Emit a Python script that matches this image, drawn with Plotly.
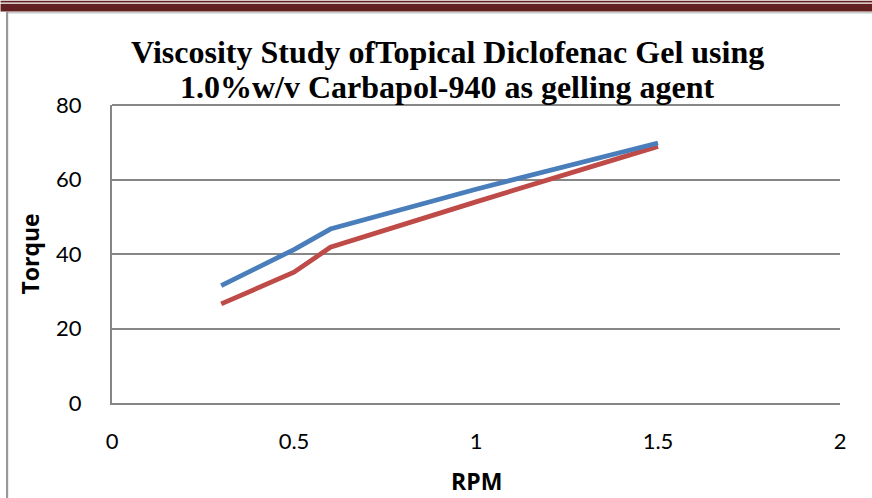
import plotly.graph_objects as go

rpm = [0.3, 0.5, 0.6, 1.0, 1.5]
torque_blue = [31.5, 41.2, 46.7, 57.4, 69.8]
torque_red = [26.6, 35.1, 41.8, 54.0, 68.9]

title_line1 = "Viscosity Study ofTopical Diclofenac Gel using"
title_line2 = "1.0%w/v Carbapol-940 as gelling agent"
x_title = "RPM"
y_title = "Torque"
x_ticks = [0, 0.5, 1, 1.5, 2]
y_ticks = [0, 20, 40, 60, 80]

W, H = 872, 498
L, R, T, B = 111.5, 32, 105, 95
PW, PH = W - L - R, H - T - B


def px(x):
    return (x - L) / PW


def py(y):
    return 1 - (y - T) / PH


fig = go.Figure()
fig.add_trace(go.Scatter(x=rpm, y=torque_red, mode="lines",
                         line=dict(color="#BE4B48", width=4.8), showlegend=False))
fig.add_trace(go.Scatter(x=rpm, y=torque_blue, mode="lines",
                         line=dict(color="#4A7EBB", width=4.8), showlegend=False))

grid = "#868686"
fig.update_layout(
    template="none",
    width=W, height=H,
    margin=dict(l=L, r=R, t=T, b=B, pad=0),
    paper_bgcolor="white", plot_bgcolor="white",
    font=dict(family="Lato", color="black", size=22),
    xaxis=dict(range=[0, 2], tickvals=x_ticks, ticktext=[str(t) for t in x_ticks],
               showgrid=False, zeroline=False, showline=True, linecolor=grid,
               linewidth=2, ticks="", ticklabelstandoff=18, automargin=False,
               tickfont=dict(family="Lato", size=22, color="black")),
    yaxis=dict(range=[0, 80], tickvals=y_ticks, showgrid=True, gridcolor=grid,
               gridwidth=2, zeroline=False, showline=True, linecolor=grid,
               linewidth=2, ticks="", ticklabelstandoff=24, automargin=False,
               tickfont=dict(family="Lato", size=22, color="black")),
    shapes=[
        dict(type="line", xref="paper", yref="paper", x0=0, x1=1, y0=1, y1=1,
             line=dict(color=grid, width=2), layer="below"),
        # top decorative border
        dict(type="rect", xref="paper", yref="paper",
             x0=px(0), x1=px(W), y0=py(2.5), y1=py(0.8),
             fillcolor="#622020", line=dict(width=0)),
        dict(type="rect", xref="paper", yref="paper",
             x0=px(0), x1=px(W), y0=py(11.5), y1=py(3.8),
             fillcolor="#622020", line=dict(width=0)),
        dict(type="line", xref="paper", yref="paper",
             x0=px(6), x1=px(W), y0=py(12.8), y1=py(12.8),
             line=dict(color="#C8C8C8", width=1.5)),
        dict(type="line", xref="paper", yref="paper",
             x0=px(6.5), x1=px(6.5), y0=py(H), y1=py(12),
             line=dict(color="#999999", width=2.2)),
    ],
    annotations=[
        dict(text="<b>" + title_line1 + "</b>", xref="paper", yref="paper",
             x=px(447.5), y=py(52), xanchor="center", yanchor="middle",
             showarrow=False, font=dict(family="Liberation Serif", size=32, color="black")),
        dict(text="<b>" + title_line2 + "</b>", xref="paper", yref="paper",
             x=px(447.5), y=py(87), xanchor="center", yanchor="middle",
             showarrow=False,
             font=dict(family="Liberation Serif", size=32, color="black")),
        dict(text="<b>" + x_title + "</b>", xref="paper", yref="paper",
             x=px(476), y=py(481), xanchor="center", yanchor="middle",
             showarrow=False, font=dict(family="Open Sans", size=23, color="black")),
        dict(text="<b>" + y_title + "</b>", xref="paper", yref="paper",
             x=px(29), y=py(254), xanchor="center", yanchor="middle", textangle=-90,
             showarrow=False, font=dict(family="Open Sans", size=23, color="black")),
    ],
)

fig.write_html("out.html", config={"displayModeBar": False},
               post_script="document.body.style.margin='0px';document.body.style.overflow='hidden';")
